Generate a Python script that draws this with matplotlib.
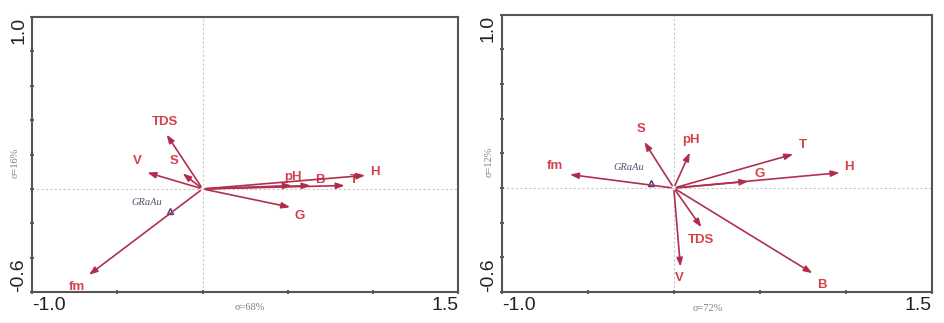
import numpy as np
import matplotlib
matplotlib.use('Agg')
import matplotlib.pyplot as plt

plt.rcParams['font.family'] = ['Liberation Sans', 'DejaVu Sans']

# left panel (sigma 68% / 16%)
vars_l = ['TDS', 'S', 'V', 'fm', 'G', 'pH', 'B', 'T', 'H']
x_l = [-0.22, -0.13, -0.34, -0.68, 0.53, 0.54, 0.65, 0.85, 0.97]
y_l = [0.33, 0.10, 0.10, -0.51, -0.11, 0.02, 0.02, 0.02, 0.08]
lab_x_l = [-0.22, -0.17, -0.38, -0.74, 0.57, 0.53, 0.69, 0.89, 1.01]
lab_y_l = [0.39, 0.16, 0.16, -0.57, -0.16, 0.07, 0.05, 0.05, 0.10]
site_l = (-0.19, -0.13)
site_lab_l = (-0.33, -0.08)

# right panel (sigma 72% / 12%)
vars_r = ['S', 'pH', 'T', 'H', 'G', 'fm', 'TDS', 'V', 'B']
x_r = [-0.18, 0.10, 0.71, 0.98, 0.45, -0.62, 0.17, 0.04, 0.82]
y_r = [0.28, 0.22, 0.20, 0.09, 0.04, 0.08, -0.24, -0.47, -0.50]
lab_x_r = [-0.19, 0.10, 0.75, 1.02, 0.50, -0.69, 0.16, 0.03, 0.86]
lab_y_r = [0.34, 0.28, 0.25, 0.12, 0.08, 0.13, -0.30, -0.52, -0.56]
site_r = (-0.13, 0.03)
site_lab_r = (-0.26, 0.12)

shaft = '#b04a62'
label_col = '#d8404a'
serif = ['Liberation Serif', 'DejaVu Serif']

fig = plt.figure(figsize=(9.45, 3.23), dpi=100)
ax1 = fig.add_axes([0.034, 0.096, 0.451, 0.851])
ax2 = fig.add_axes([0.531, 0.096, 0.455, 0.858])


def draw(ax, names, xs, ys, lx, ly, site, site_lab, xlab, ylab, xlab_pos, ylab_pos):
    ax.set_xlim(-1.0, 1.5)
    ax.set_ylim(-0.6, 1.0)
    ax.axhline(0, color='#c8c8c8', lw=0.8, ls=(0, (2, 2)), zorder=0)
    ax.axvline(0, color='#c8c8c8', lw=0.8, ls=(0, (2, 2)), zorder=0)
    for n, x, y, tx, ty in zip(names, xs, ys, lx, ly):
        ax.annotate('', xy=(x, y), xytext=(0, 0),
                    arrowprops=dict(arrowstyle='-|>,head_length=0.5,head_width=0.18',
                                    color=shaft, lw=1.2, fc='#c0203c', ec='#b03050'))
        ax.text(tx, ty, n, color=label_col, fontsize=9.5, fontweight='bold',
                ha='center', va='center')
    ax.plot(site[0], site[1], marker='^', ms=4.5, mfc='none', mec='#3a3a7a', mew=1.0)
    ax.text(site_lab[0], site_lab[1], 'GRaAu', family=serif,
            style='italic', fontsize=7.5, color='#505070', ha='center', va='center')
    for s in ax.spines.values():
        s.set_color('#555555')
        s.set_linewidth(1.5)
    ax.set_xticks(np.arange(-1.0, 1.51, 0.5))
    ax.set_xticklabels(['-1.0', '', '', '', '', '1.5'])
    ax.set_yticks(np.arange(-0.6, 1.01, 0.2))
    ylabels = [''] * 9
    ylabels[0] = '-0.6'
    ylabels[-1] = '1.0'
    ax.set_yticklabels(ylabels, rotation=90)
    ax.tick_params(length=3, width=1.2, color='#444444', direction='inout',
                   labelsize=14, labelcolor='#222222', pad=2)
    xt = ax.get_xticklabels()
    xt[0].set_ha('left')
    xt[-1].set_ha('right')
    yt = ax.get_yticklabels()
    yt[0].set_va('bottom')
    yt[-1].set_va('top')
    ax.text(xlab_pos, -0.058, xlab, family=serif, fontsize=7.5, color='#808080',
            ha='center', va='center', transform=ax.transAxes)
    ax.text(ylab_pos, 0.47, ylab, family=serif, fontsize=7.5, color='#808080',
            ha='center', va='center', rotation=90, transform=ax.transAxes)


draw(ax1, vars_l, x_l, y_l, lab_x_l, lab_y_l, site_l, site_lab_l,
     'σ=68%', 'σ=16%', 0.51, -0.04)
draw(ax2, vars_r, x_r, y_r, lab_x_r, lab_y_r, site_r, site_lab_r,
     'σ=72%', 'σ=12%', 0.48, -0.03)

fig.savefig('out.png', dpi=100)
